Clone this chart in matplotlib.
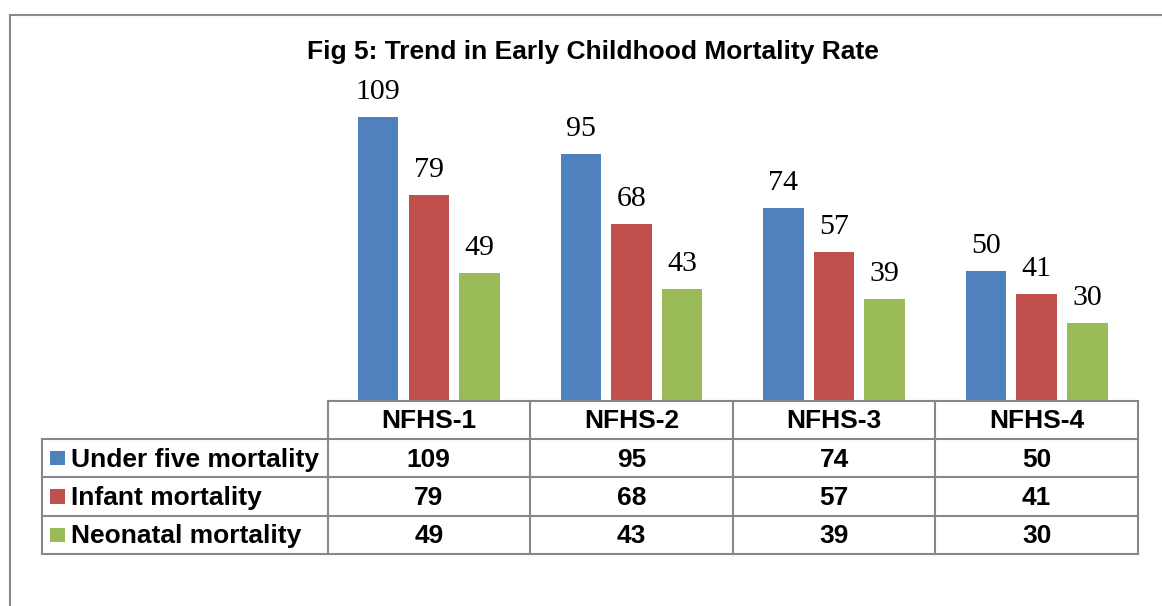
import matplotlib
matplotlib.use("Agg")
import matplotlib.pyplot as plt
from matplotlib.patches import Rectangle
from matplotlib.lines import Line2D

title = "Fig 5: Trend in Early Childhood Mortality Rate"
categories = ["NFHS-1", "NFHS-2", "NFHS-3", "NFHS-4"]
series_names = ["Under five mortality", "Infant mortality", "Neonatal mortality"]
under_five = [109, 95, 74, 50]
infant = [79, 68, 57, 41]
neonatal = [49, 43, 39, 30]
series_values = [under_five, infant, neonatal]
colors = ["#4F81BD", "#C0504D", "#9BBB59"]

W, H = 1162, 606
DPI = 100
fig = plt.figure(figsize=(W / DPI, H / DPI), dpi=DPI)
fig.patch.set_facecolor("white")

# bar axes geometry (pixels)
ax_left, ax_right = 327.5, 1138.0
ax_top, ax_bottom = 80.0, 400.7
ax = fig.add_axes([ax_left / W, 1 - ax_bottom / H,
                   (ax_right - ax_left) / W, (ax_bottom - ax_top) / H])
ax.set_xlim(-0.5, len(categories) - 0.5)
ax.set_ylim(0, 123.3)
ax.axis("off")

offsets = [-0.25, 0.0, 0.25]
bar_w = 0.2
for s, vals in enumerate(series_values):
    xs = [i + offsets[s] for i in range(len(categories))]
    ax.bar(xs, vals, width=bar_w, color=colors[s], edgecolor="none")
    for x, v in zip(xs, vals):
        ax.annotate(str(v), xy=(x, v), xytext=(0, 13), textcoords="offset points",
                    ha="center", va="baseline", fontsize=21.5,
                    family="Liberation Serif", color="black", annotation_clip=False)

# data table beneath the bars
trans = ax.get_xaxis_transform()
ax_h_px = ax_bottom - ax_top
r = 38.3 / ax_h_px
col_w_px = (ax_right - ax_left) / len(categories)
label_left = -0.5 - (ax_left - 41.7) / col_w_px
grid_c = "#888888"
lw = 1.5
right = len(categories) - 0.5
nrows = len(series_names)

def hline(y, x0, x1):
    ax.add_line(Line2D([x0, x1], [y, y], transform=trans, color=grid_c, lw=lw,
                       clip_on=False, solid_capstyle="projecting"))

def vline(x, y0, y1):
    ax.add_line(Line2D([x, x], [y0, y1], transform=trans, color=grid_c, lw=lw,
                       clip_on=False, solid_capstyle="projecting"))

hline(0, -0.5, right)
for k in range(1, nrows + 2):
    hline(-k * r, label_left, right)
for j in range(len(categories) + 1):
    vline(-0.5 + j, 0, -(nrows + 1) * r)
vline(label_left, -r, -(nrows + 1) * r)

base_off = 8.5 / ax_h_px
tfont = dict(fontsize=19, fontweight="bold", family="Liberation Sans", color="black")
for i, c in enumerate(categories):
    ax.text(i, -0.5 * r - base_off, c, transform=trans, ha="center", va="baseline",
            clip_on=False, **tfont)
for s, (name, vals) in enumerate(zip(series_names, series_values)):
    yc = -(s + 1.5) * r
    for i, v in enumerate(vals):
        ax.text(i, yc - base_off, str(v), transform=trans, ha="center", va="baseline",
                clip_on=False, **tfont)
    sq_x = -0.5 - (ax_left - 50.0) / col_w_px
    sq_w = 14.5 / col_w_px
    sq_h = 14.5 / ax_h_px
    ax.add_patch(Rectangle((sq_x, yc - sq_h / 2), sq_w, sq_h, transform=trans,
                           facecolor=colors[s], edgecolor="none", clip_on=False))
    tx = -0.5 - (ax_left - 70.7) / col_w_px
    ax.text(tx, yc - base_off, name, transform=trans, ha="left", va="baseline",
            clip_on=False, **tfont)

# title
fig.text(593 / W, 1 - 59 / H, title, ha="center", va="baseline", fontsize=19,
         fontweight="bold", family="Liberation Sans", color="black")

# outer frame (top and left edges)
frame_c = "#8A8A8A"
fig.add_artist(Line2D([9.5 / W, 9.5 / W], [1 - 14.5 / H, 0], transform=fig.transFigure,
                      color=frame_c, lw=1.5))
fig.add_artist(Line2D([9.5 / W, 1], [1 - 14.5 / H, 1 - 14.5 / H], transform=fig.transFigure,
                      color=frame_c, lw=1.5))

fig.savefig("out.png", dpi=DPI, facecolor="white")
